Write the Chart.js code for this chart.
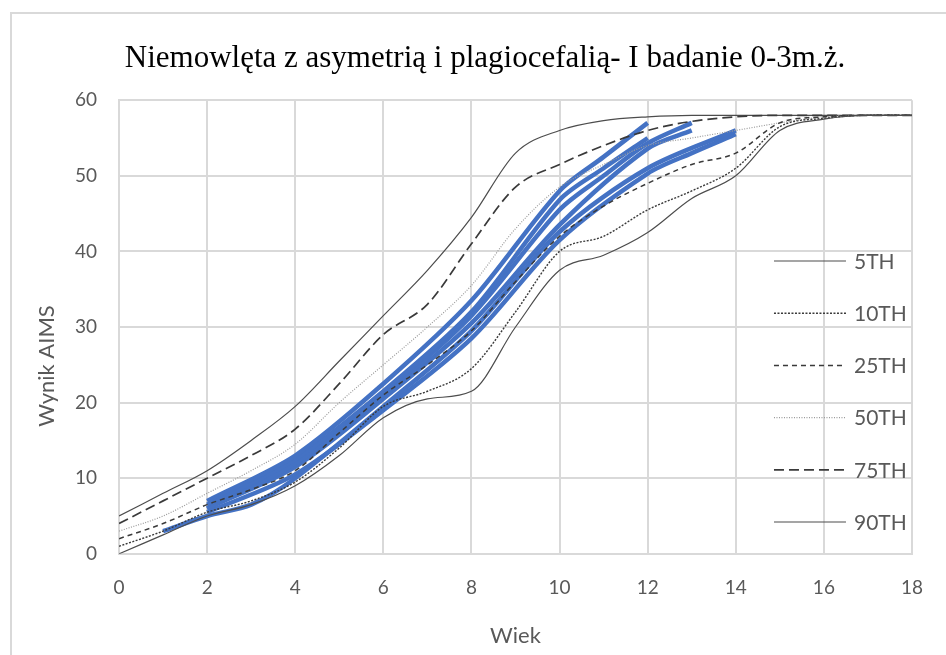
<!DOCTYPE html>
<html>
<head>
<meta charset="utf-8">
<script src="https://cdn.jsdelivr.net/npm/chart.js@4.4.1/dist/chart.umd.min.js"></script>
<style>
  html, body { margin: 0; padding: 0; background: #fff; overflow: hidden; }
  #ramka { position: absolute; left: 10px; top: 12px; width: 1000px; height: 700px; border: 2px solid #d9d9d9; }
  #wrap { position: absolute; left: 0; top: 0; width: 946px; height: 655px; }
</style>
</head>
<body>
<div id="ramka"></div>
<div id="wrap"><canvas id="wykres" width="946" height="655"></canvas></div>
<script>
// siatki centylowe AIMS (miesiace 0-18)
const miesiace = [0,1,2,3,4,5,6,7,8,9,10,11,12,13,14,15,16,17,18]
const c5  = [0,2.5,5,6.5,9,13,18,20.5,21.5,30,37.5,39.5,42.5,47,50,56,57.5,58,58]
const c10 = [1,3,5.5,7,9.5,14,19.5,21.5,24.5,32,40,42,45.5,48,51,56.5,57.6,58,58]
const c25 = [2,4,6.5,8.5,11,16,21,25,29.5,36,42,46,49,51.5,53,57,57.8,58,58]
const c50 = [3,5,8,11,14.5,20,25,30,35.5,43,48.5,51.5,54,55,56,57,57.8,58,58]
const c75 = [4,7,10,13,16.5,22.5,29,33,41,48.5,51.5,54,56,57.2,57.8,58,58,58,58]
const c90 = [5,8,11,15,19.5,25.5,31.5,37.5,44.5,53,56,57.3,57.8,58,58,58,58,58,58]
const nazwyCentyli = ['5TH','10TH','25TH','50TH','75TH','90TH']

// niemowleta - badanie
const wiekA = [2,4,6,8,10,11,12]
const wynikA = [7,13,22.5,33.5,48,52.5,57]
const wiekB = [2,4,6,8,10,11,12]
const wynikB = [6.5,12.5,21.5,32,46.8,51,55]
const wiekC = [2,4,6,8,10,11,12,13]
const wynikC = [6,12,21,31.5,45.5,50,54.3,57]
const wiekD = [2,4,6,8,10,12,13]
const wynikD = [6,11.5,20.5,30.5,43.5,53.6,56]
const wiekE = [1,2,3,4,6,8,10,12,14]
const wynikE = [3,5,6.5,10,19.5,29.5,42.6,51,56]
const wiekF = [2,4,6,8,10,12,13,14]
const wynikF = [5.5,10.5,19,28.5,41.5,50.3,53,55.5]

const szary = '#595959'

function punkty(xs, ys) {
    return xs.map((x, i) => ({x: x, y: ys[i]}))
}

let centyle = [
    {dane: c5,  kolor: '#4d4d4d', szer: 1.2, kreska: []},
    {dane: c10, kolor: '#3a3a3a', szer: 1.4, kreska: [2,1.5]},
    {dane: c25, kolor: '#3a3a3a', szer: 1.5, kreska: [5,4]},
    {dane: c50, kolor: '#9a9a9a', szer: 1.2, kreska: [1,1.5]},
    {dane: c75, kolor: '#3a3a3a', szer: 1.7, kreska: [10,5]},
    {dane: c90, kolor: '#4d4d4d', szer: 1.2, kreska: []}
]

let zbiory = centyle.map((c, i) => ({
    label: nazwyCentyli[i],
    data: punkty(miesiace, c.dane),
    borderColor: c.kolor,
    borderWidth: c.szer,
    borderDash: c.kreska,
    pointRadius: 0,
    cubicInterpolationMode: 'monotone',
    fill: false
}))

let niebieskie = [[wiekA,wynikA],[wiekB,wynikB],[wiekC,wynikC],[wiekD,wynikD],[wiekE,wynikE],[wiekF,wynikF]]
niebieskie.forEach(n => {
    zbiory.push({
        label: '',
        data: punkty(n[0], n[1]),
        borderColor: '#4472c4',
        borderWidth: 4.5,
        pointRadius: 0,
        tension: 0.3,
        fill: false
    })
})

// legenda wewnatrz obszaru wykresu + tytul osi Y
const legendaPlugin = {
    id: 'legendaWewn',
    afterDraw(chart) {
        const ctx = chart.ctx
        const area = chart.chartArea
        ctx.save()
        for (let i = 0; i < nazwyCentyli.length; i++) {
            const ds = chart.data.datasets[i]
            const y = 261 + i * 52.2
            const x0 = area.right - 138
            ctx.beginPath()
            ctx.strokeStyle = ds.borderColor
            ctx.lineWidth = ds.borderWidth
            ctx.setLineDash(ds.borderDash)
            ctx.moveTo(x0, y)
            ctx.lineTo(x0 + 72, y)
            ctx.stroke()
            ctx.setLineDash([])
            ctx.fillStyle = szary
            ctx.font = '21px Lato'
            ctx.textAlign = 'left'
            ctx.textBaseline = 'middle'
            ctx.fillText(nazwyCentyli[i], x0 + 80, y + 1)
        }
        ctx.translate(47, 366)
        ctx.rotate(-Math.PI / 2)
        ctx.textAlign = 'center'
        ctx.textBaseline = 'middle'
        ctx.fillStyle = szary
        ctx.font = '22px Lato'
        ctx.fillText('Wynik AIMS', 0, 0)
        ctx.restore()
    }
}

let wykres = new Chart(document.getElementById('wykres'), {
    type: 'line',
    data: { datasets: zbiory },
    plugins: [legendaPlugin],
    options: {
        responsive: false,
        animation: false,
        layout: { padding: { left: 53, right: 29, top: 0, bottom: 6 } },
        plugins: {
            legend: { display: false },
            tooltip: { enabled: false },
            title: {
                display: true,
                text: 'Niemowlęta z asymetrią i plagiocefalią- I badanie 0-3m.ż.',
                color: '#000',
                font: { family: 'Liberation Serif', size: 31, weight: 'normal' },
                padding: { top: 40, bottom: 23 }
            }
        },
        scales: {
            x: {
                type: 'linear',
                min: 0,
                max: 18,
                ticks: { stepSize: 2, color: szary, font: { family: 'Lato', size: 19 }, padding: 23 },
                grid: { color: '#d9d9d9', lineWidth: 2, drawTicks: false },
                border: { color: '#d9d9d9', width: 2 },
                title: { display: true, text: 'Wiek', color: szary, font: { family: 'Lato', size: 22 }, padding: { top: 0, bottom: 0 } }
            },
            y: {
                min: 0,
                max: 60,
                ticks: { stepSize: 10, color: szary, font: { family: 'Lato', size: 19 }, padding: 22 },
                grid: { color: '#d9d9d9', lineWidth: 2, drawTicks: false },
                border: { color: '#d9d9d9', width: 2 }
            }
        }
    }
})
</script>
</body>
</html>
